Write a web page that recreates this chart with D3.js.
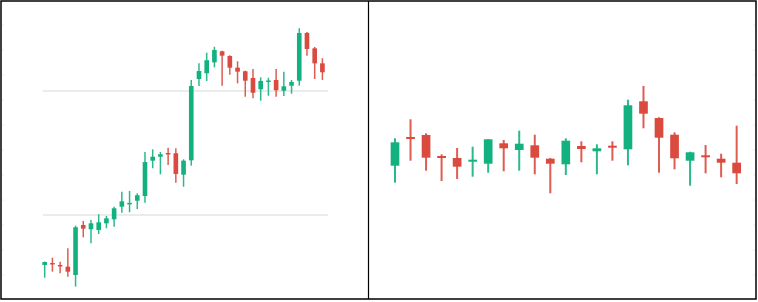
<!DOCTYPE html>
<html>
<head>
<meta charset="utf-8">
<script src="https://cdn.jsdelivr.net/npm/d3@7"></script>
<style>
  html, body { margin: 0; padding: 0; background: #fff; }
  svg { display: block; }
</style>
</head>
<body>
<svg id="chart" width="758" height="302"></svg>
<script>
// ---- Left panel data (open, high, low, close) ----
const leftOpen  = [5.97,6.13,5.97,5.83,5.16,9.19,8.85,8.79,9.33,9.65,10.67,10.93,11.15,11.53,14.38,14.70,15.00,14.98,13.25,14.41,20.97,21.43,22.31,23.20,22.82,21.88,21.59,21.05,20.14,20.79,20.89,20.02,20.43,20.83,24.68,23.44,22.23];
const leftHigh  = [6.24,6.56,6.23,7.31,9.14,9.52,9.60,10.06,9.92,10.67,11.88,11.94,11.75,15.08,15.30,15.08,15.43,15.38,14.49,20.89,22.23,23.09,23.57,23.25,22.88,22.40,21.64,21.77,21.10,21.07,21.77,21.56,20.89,25.06,24.76,23.55,22.64];
const leftLow   = [4.94,5.43,5.30,5.02,4.22,8.20,7.72,8.47,8.93,9.06,10.19,10.22,10.48,10.99,13.77,13.28,14.03,12.60,12.28,13.98,20.40,20.81,21.91,20.43,21.31,20.62,19.54,19.41,19.22,19.62,19.54,19.60,19.78,20.43,22.85,20.97,20.89];
const leftClose = [6.21,6.05,5.86,5.43,9.01,8.90,9.33,9.41,9.73,10.54,11.10,10.98,11.59,14.27,14.70,14.90,14.92,13.31,14.38,20.40,21.61,22.48,23.31,22.85,21.88,21.56,20.83,19.86,20.81,20.85,20.06,20.38,20.73,24.68,23.39,22.23,21.51];
const leftGrid  = [10, 20];

// ---- Right panel data ----
const rightOpen  = [46.86,52.60,53.00,48.80,48.40,47.66,47.26,51.34,50.00,50.94,48.26,47.14,50.80,49.74,50.86,50.14,59.74,56.40,53.06,47.86,48.94,48.26,47.46];
const rightHigh  = [52.34,56.14,53.34,49.14,50.40,50.66,52.14,52.00,53.86,53.06,48.40,52.34,51.74,51.14,51.74,60.06,62.80,56.54,53.54,49.66,51.00,49.26,54.86];
const rightLow   = [43.46,47.86,45.86,43.80,44.20,44.66,45.46,45.74,45.86,45.14,41.34,45.00,47.54,45.14,47.86,46.94,54.34,45.46,46.14,42.86,45.34,44.54,43.20];
const rightClose = [51.54,52.20,48.46,48.40,46.66,48.06,52.14,50.34,51.26,48.46,47.26,51.86,50.20,50.34,50.46,58.94,57.26,52.46,48.34,49.54,48.54,47.46,45.34];

const UP = "#14b180", DOWN = "#da4a3f";

const svg = d3.select("#chart");

function build(open, high, low, close) {
  return open.map((o, i) => ({ i, o, h: high[i], l: low[i], c: close[i] }));
}

function drawCandles(g, data, x, y, wickW) {
  const sel = g.selectAll("g.candle").data(data).join("g").attr("class", "candle");
  sel.append("line")
    .attr("x1", d => x(d.i) + x.bandwidth() / 2)
    .attr("x2", d => x(d.i) + x.bandwidth() / 2)
    .attr("y1", d => y(d.h))
    .attr("y2", d => y(d.l))
    .attr("stroke", d => d.c >= d.o ? UP : DOWN)
    .attr("stroke-opacity", 0.9)
    .attr("stroke-width", wickW);
  sel.append("rect")
    .attr("x", d => x(d.i))
    .attr("width", x.bandwidth())
    .attr("y", d => y(Math.max(d.o, d.c)))
    .attr("height", d => Math.max(1.5, Math.abs(y(d.o) - y(d.c))))
    .attr("fill", d => d.c >= d.o ? UP : DOWN);
}

// Left panel
const leftData = build(leftOpen, leftHigh, leftLow, leftClose);
const xL = d3.scaleBand().domain(leftData.map(d => d.i)).range([40.84, 326.26])
  .paddingInner(0.4).paddingOuter(0.2);
const yL = d3.scaleLinear().domain([10, 20]).range([215, 91]);
const gL = svg.append("g");
gL.selectAll("line.grid").data(leftGrid).join("line").attr("class", "grid")
  .attr("x1", 43).attr("x2", 328)
  .attr("y1", d => yL(d)).attr("y2", d => yL(d))
  .attr("stroke", "#e6e6e6").attr("stroke-width", 1.5);
drawCandles(gL, leftData, xL, yL, 1.5);

// Right panel
const rightData = build(rightOpen, rightHigh, rightLow, rightClose);
const xR = d3.scaleBand().domain(rightData.map(d => d.i)).range([387.23, 744.42])
  .paddingInner(0.44).paddingOuter(0.22);
const yR = d3.scaleLinear().domain([40, 60]).range([200, 100]);
const gR = svg.append("g");
drawCandles(gR, rightData, xR, yR, 2);

// faint edge ticks
const tickYs = d3.range(25, 300, 25);
svg.append("g").selectAll("line").data(tickYs).join("line")
  .attr("x1", 2).attr("x2", 4).attr("y1", d => d).attr("y2", d => d)
  .attr("stroke", "#ececec").attr("stroke-width", 1);
svg.append("g").selectAll("line").data(tickYs).join("line")
  .attr("x1", 753).attr("x2", 755).attr("y1", d => d).attr("y2", d => d)
  .attr("stroke", "#ececec").attr("stroke-width", 1);

// Frame and divider
svg.append("rect").attr("x", 1).attr("y", 1).attr("width", 755).attr("height", 298)
  .attr("fill", "none").attr("stroke", "#000").attr("stroke-width", 1.5);
svg.append("line").attr("x1", 368.5).attr("x2", 368.5).attr("y1", 1).attr("y2", 299)
  .attr("stroke", "#000").attr("stroke-width", 1.2);
</script>
</body>
</html>
